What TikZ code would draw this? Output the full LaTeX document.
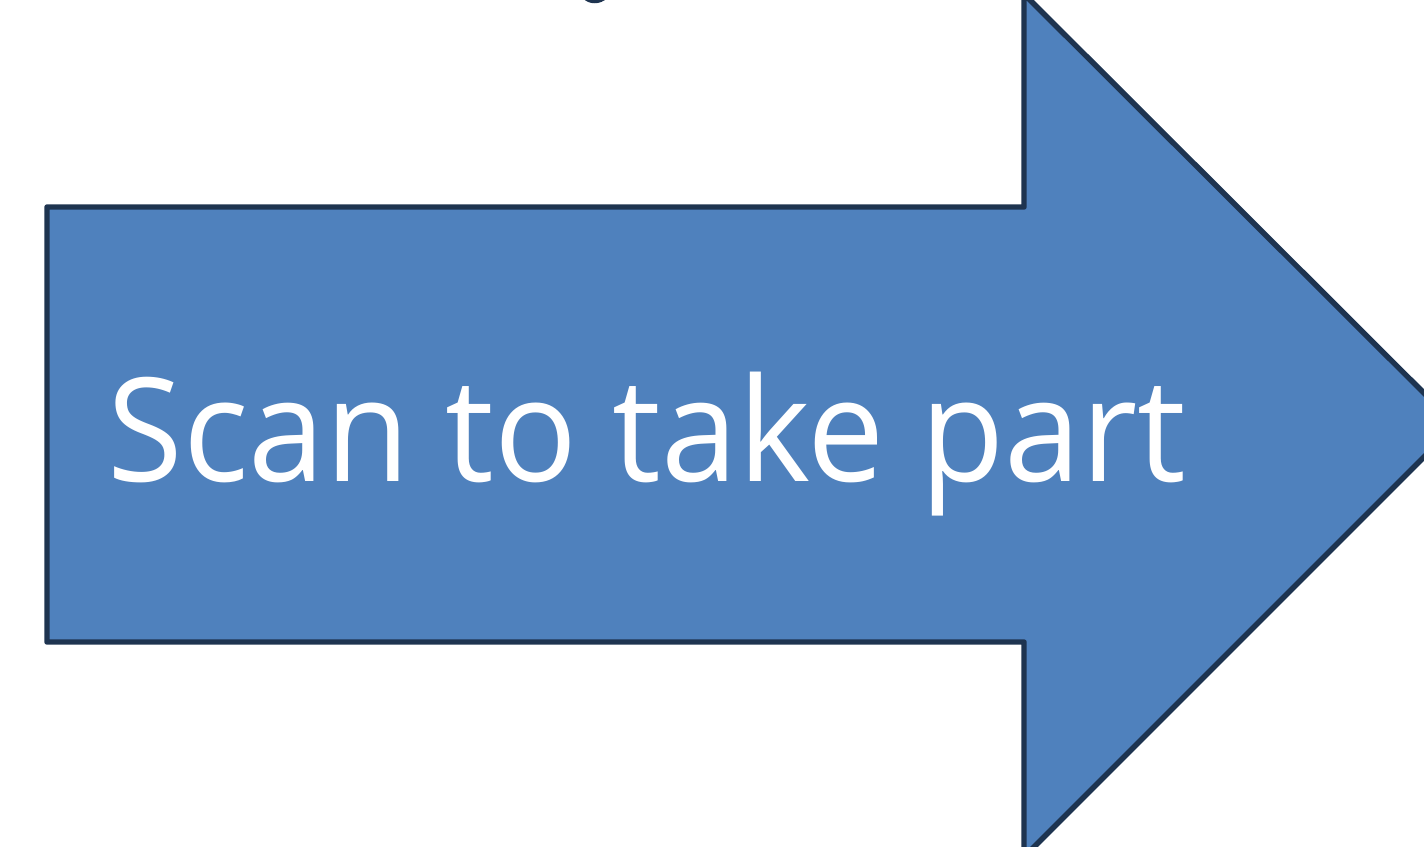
\documentclass[tikz,border=0pt]{standalone}
\usepackage{fontspec}
\setmainfont{Open Sans}[FakeStretch=0.955]
\usetikzlibrary{calc}
\definecolor{arrowfill}{RGB}{79,129,189}
\definecolor{arrowline}{RGB}{30,52,80}

\begin{document}
\begin{tikzpicture}[x=0.02cm, y=-0.02cm,
      bigarrow/.style={fill=arrowfill, draw=arrowline, line width=3.1pt, line join=round},
      lbl/.style={text=white, inner sep=0pt, anchor=base,
                  font=\fontsize{82}{90}\selectfont}
    ]
    \useasboundingbox (0,0) rectangle (1424,846);
    \clip (0,0) rectangle (1424,846);
    % cut-off glyph at the top edge
    \fill[arrowline] (583,-2) .. controls (588,5) and (601,5) .. (607,-2) -- cycle;
    % the arrow
    \coordinate (tl) at (47,207);
    \coordinate (bl) at (47,642);
    \coordinate (tip) at (1456,425);
    \draw[bigarrow] (tl) -- (1024,207) -- (1024,-6) -- (tip)
                    -- (1024,857) -- (1024,642) -- (bl) -- cycle;
    \node[lbl] (label) at (647,481) {Scan to take part};
\end{tikzpicture}
\end{document}
